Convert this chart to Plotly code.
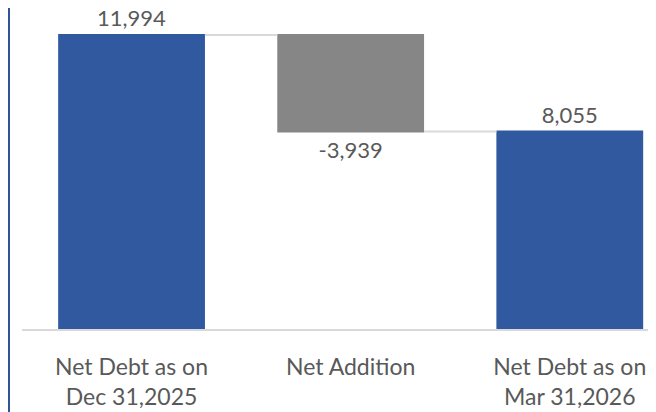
import plotly.graph_objects as go

categories = ["Net Debt as on<br>Dec 31,2025", "Net Addition", "Net Debt as on<br>Mar 31,2026"]
measures = ["absolute", "relative", "total"]
values = [11994, -3939, 0]
labels = ["11,994", "-3,939", "8,055"]

blue = "#3059a0"
gray = "#868686"
txt = "#595959"
fnt = "Lato"

fig = go.Figure(go.Waterfall(
    x=categories,
    measure=measures,
    y=values,
    text=labels,
    textinfo="text",
    textposition="outside",
    textfont=dict(family=fnt, size=22, color=txt),
    increasing=dict(marker=dict(color=blue)),
    decreasing=dict(marker=dict(color=gray)),
    totals=dict(marker=dict(color=blue)),
    connector=dict(mode="between", line=dict(color="#d9d9d9", width=2)),
    cliponaxis=False,
))

fig.update_layout(
    width=656, height=412,
    margin=dict(l=14, r=0, t=0, b=91, autoexpand=False),
    paper_bgcolor="white", plot_bgcolor="white",
    showlegend=False,
    waterfallgap=0.33,
    font=dict(family=fnt, color=txt),
    xaxis=dict(range=[-0.5, 2.43], showline=True, linecolor="#d9d9d9", linewidth=1.5,
               ticks="", showgrid=False, automargin=False,
               tickfont=dict(family=fnt, size=23, color=txt),
               ticklabelstandoff=17),
    yaxis=dict(range=[0, 13096], visible=False, showgrid=False, automargin=False),
    shapes=[dict(type="line", xref="paper", yref="paper", x0=-13/642, x1=-13/642,
                 y0=-91/321, y1=1, line=dict(color="#2f5597", width=2))],
)

fig.write_html("out.html")
